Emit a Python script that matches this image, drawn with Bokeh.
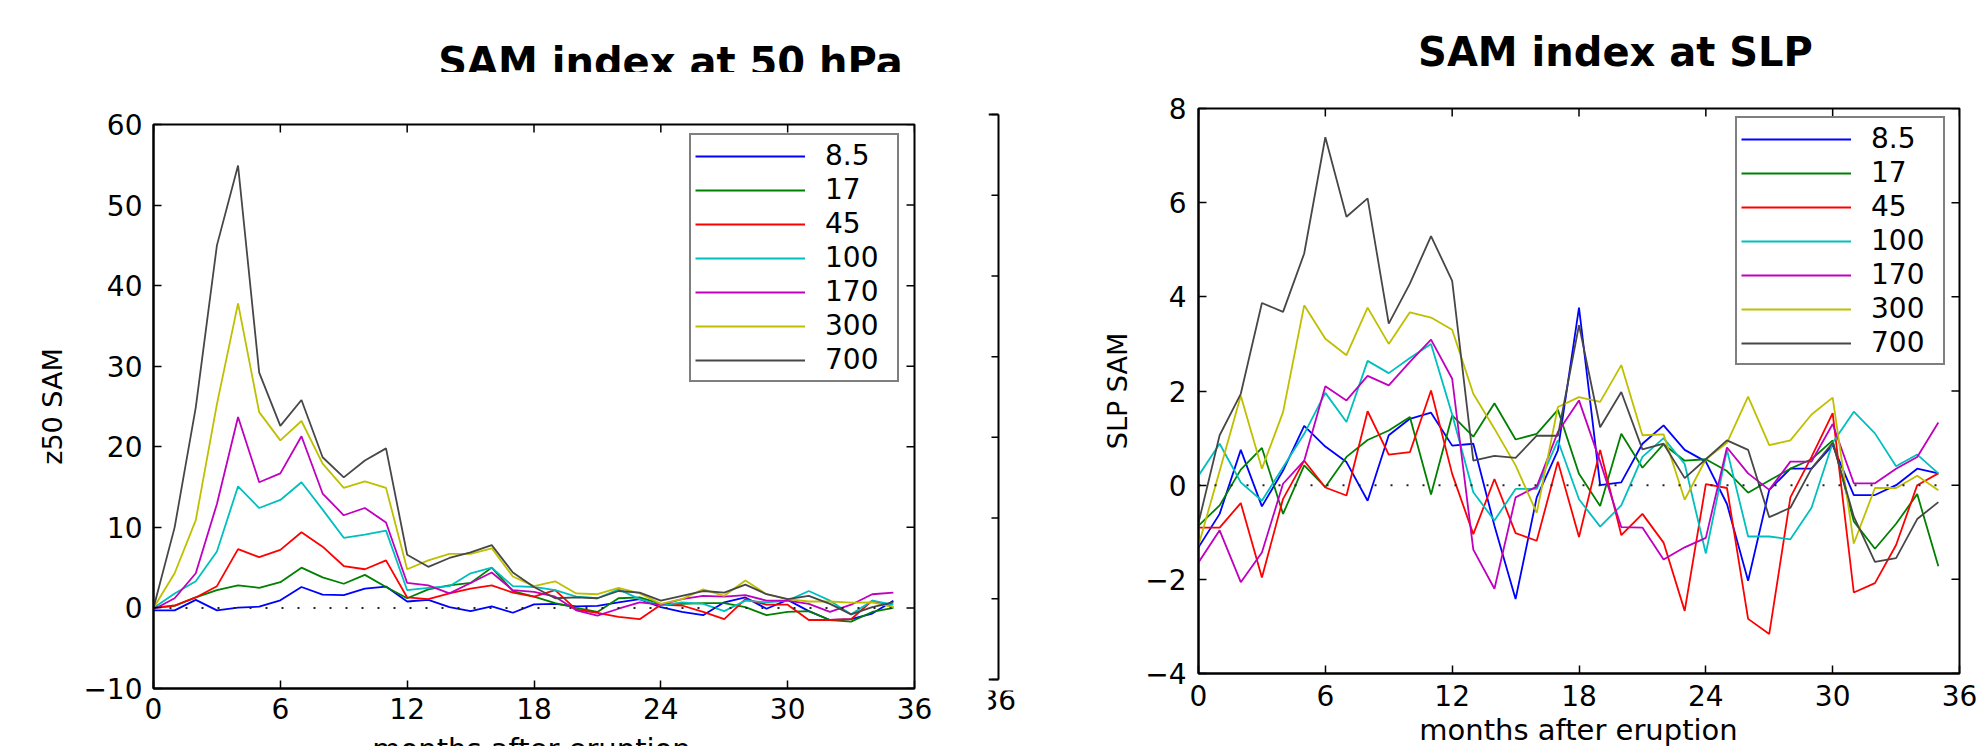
from bokeh.plotting import figure
from bokeh.layouts import row, column
from bokeh.models import Range1d, FixedTicker, Legend, LegendItem
from bokeh.core.properties import value
from bokeh.core.validation import silence
from bokeh.core.validation.warnings import MISSING_RENDERERS
from bokeh.embed import file_html
from bokeh.resources import INLINE

silence(MISSING_RENDERERS, True)

# ---------------- data ----------------
months = list(range(36))
series_labels = ["8.5", "17", "45", "100", "170", "300", "700"]
series_colors = ["#0000ff", "#008000", "#ff0000", "#00bfbf", "#bf00bf", "#bfbf00", "#474747"]

z50_85 = [-0.3, -0.3, 1.0, -0.3, 0.05, 0.15, 0.95, 2.6, 1.65, 1.6, 2.4, 2.65, 0.8, 1.0, 0.1, -0.4, 0.2, -0.6,
          0.45, 0.5, 0.2, 0.25, 0.7, 1.1, 0.1, -0.5, -0.9, 0.7, 1.3, -0.1, 1.0, -0.4, -1.5, -1.4, -0.7, 0.9]
z50_17 = [0, 0.25, 1.3, 2.2, 2.8, 2.5, 3.2, 5.0, 3.8, 3.0, 4.1, 2.6, 1.2, 2.3, 2.8, 3.1, 5.0, 2.1,
          1.4, 0.6, 0.0, -0.5, 1.2, 1.3, 0.5, 0.5, 0.6, 0.6, 0.1, -0.9, -0.5, -0.4, -1.5, -1.7, -0.5, 0.0]
z50_45 = [0, 0.3, 1.3, 2.7, 7.3, 6.3, 7.2, 9.4, 7.6, 5.2, 4.8, 5.9, 1.3, 1.1, 1.8, 2.4, 2.8, 1.9,
          1.4, 2.2, -0.2, -0.6, -1.1, -1.4, 0.4, 0.3, -0.5, -1.4, 1.1, 0.4, 0.4, -1.5, -1.5, -1.4, 0.9, 0.1]
z50_100 = [0, 1.8, 3.3, 7.0, 15.1, 12.4, 13.4, 15.6, 12.2, 8.7, 9.1, 9.6, 2.2, 2.5, 2.7, 4.3, 5.0, 2.7,
           2.6, 2.2, 1.4, 1.2, 2.3, 1.1, 0.3, 0.7, 0.5, -0.4, 0.9, 0.7, 0.9, 2.1, 0.9, -0.8, 0.9, 0.4]
z50_170 = [-0.2, 1.2, 4.3, 12.9, 23.7, 15.6, 16.7, 21.3, 14.2, 11.5, 12.4, 10.6, 3.1, 2.8, 1.8, 3.1, 4.4, 2.2,
           2.0, 1.4, -0.3, -0.95, -0.1, 0.7, 0.4, 1.1, 1.5, 1.4, 1.6, 0.9, 0.9, 0.5, -0.5, 0.4, 1.7, 1.9]
z50_300 = [0, 4.3, 10.9, 25.3, 37.8, 24.3, 20.8, 23.2, 17.9, 14.9, 15.7, 14.9, 4.8, 5.9, 6.7, 6.7, 7.4, 3.9,
           2.7, 3.3, 1.8, 1.7, 2.5, 1.8, 0.5, 1.1, 2.3, 1.5, 3.4, 1.7, 1.1, 0.8, 0.8, 0.65, 0.7, 0.1]
z50_700 = [0, 10.0, 24.9, 45.0, 54.9, 29.2, 22.6, 25.8, 18.7, 16.2, 18.3, 19.8, 6.6, 5.1, 6.2, 6.9, 7.8, 4.4,
           2.6, 1.2, 1.3, 1.2, 2.1, 1.9, 0.9, 1.5, 2.1, 1.9, 2.9, 1.7, 1.1, 1.5, 0.5, -0.8, 0.1, 0.7]

slp_85 = [-1.32, -0.61, 0.75, -0.45, 0.31, 1.26, 0.82, 0.49, -0.33, 1.06, 1.41, 1.54, 0.84, 0.88, -0.86, -2.42,
          -0.26, 0.74, 3.77, 0.0, 0.06, 0.88, 1.27, 0.75, 0.5, -0.4, -2.03, -0.1, 0.35, 0.35, 0.85, -0.21, -0.21,
          0.0, 0.35, 0.25]
slp_17 = [-0.86, -0.43, 0.33, 0.79, -0.61, 0.42, -0.04, 0.6, 0.96, 1.16, 1.45, -0.2, 1.48, 1.03, 1.74, 0.97,
          1.09, 1.6, 0.24, -0.44, 1.09, 0.37, 0.87, 0.52, 0.55, 0.3, -0.16, 0.1, 0.35, 0.55, 0.95, -0.77, -1.35,
          -0.82, -0.19, -1.72]
slp_45 = [-0.9, -0.9, -0.38, -1.96, -0.29, 0.52, -0.05, -0.22, 1.57, 0.65, 0.7, 2.01, 0.24, -1.04, 0.13, -1.02,
          -1.18, 0.5, -1.1, 0.75, -1.06, -0.61, -1.22, -2.67, 0.02, -0.06, -2.84, -3.16, -0.26, 0.6, 1.53, -2.28,
          -2.08, -1.27, 0.0, 0.25]
slp_100 = [0.2, 0.88, 0.06, -0.33, 0.38, 1.09, 1.96, 1.34, 2.64, 2.38, 2.7, 3.0, 1.5, -0.15, -0.75, -0.08,
           -0.08, 0.95, -0.3, -0.88, -0.43, 0.6, 1.0, 0.45, -1.45, 0.75, -1.09, -1.09, -1.15, -0.48, 0.9, 1.56,
           1.1, 0.4, 0.65, 0.25]
slp_170 = [-1.64, -0.96, -2.06, -1.43, 0.03, 0.52, 2.1, 1.8, 2.32, 2.12, 2.62, 3.09, 2.26, -1.37, -2.2, -0.26,
           -0.03, 1.13, 1.8, 0.5, -0.89, -0.9, -1.58, -1.32, -1.12, 0.8, 0.25, -0.1, 0.5, 0.5, 1.3, 0.04, 0.04,
           0.35, 0.6, 1.33]
slp_300 = [-1.28, 0.3, 1.9, 0.35, 1.55, 3.82, 3.11, 2.76, 3.77, 3.0, 3.67, 3.56, 3.3, 1.94, 1.2, 0.42, -0.59,
           1.66, 1.87, 1.77, 2.55, 1.06, 1.08, -0.31, 0.55, 0.9, 1.88, 0.85, 0.95, 1.5, 1.86, -1.24, -0.06, -0.06,
           0.2, -0.11]
slp_700 = [-0.8, 1.06, 1.94, 3.87, 3.68, 4.92, 7.39, 5.7, 6.09, 3.43, 4.28, 5.29, 4.34, 0.52, 0.62, 0.58, 1.05,
           1.05, 3.4, 1.23, 1.98, 0.76, 0.88, 0.15, 0.55, 0.95, 0.75, -0.68, -0.48, 0.35, 0.9, -0.67, -1.63, -1.55,
           -0.72, -0.36]

x_ticks = [0, 6, 12, 18, 24, 30, 36]
z50_ticks = [-10, 0, 10, 20, 30, 40, 50, 60]
slp_ticks = [-4, -2, 0, 2, 4, 6, 8]
side_ticks = [0, 1, 2, 3, 4, 5, 6, 7]      # ticks of the cut-off neighbouring panel
zero_line = [0] * len(months)

FONT = "DejaVu Sans"
FRAME_W = 761


def style_axis(ax, ticks, standoff):
    ax.ticker = FixedTicker(ticks=ticks)
    ax.axis_line_width = 2
    ax.axis_line_color = "black"
    ax.major_tick_in = 8
    ax.major_tick_out = 0
    ax.major_tick_line_width = 1.5
    ax.major_tick_line_color = "black"
    ax.minor_tick_line_color = None
    ax.major_label_text_font = FONT
    ax.major_label_text_font_size = "28px"
    ax.major_label_text_color = "black"
    ax.major_label_standoff = standoff


def text_fig(width, height, border_l, border_r, txt, cx, top_y, size, bold=False):
    """A bare strip whose frame (same side borders as the plot below/above it) clips the text."""
    fw = width - border_l - border_r
    t = figure(width=width, height=height, x_range=Range1d(0, fw), y_range=Range1d(0, height),
               output_backend="svg", toolbar_location=None,
               min_border_left=border_l, min_border_right=border_r,
               min_border_top=0, min_border_bottom=0,
               x_axis_type=None, y_axis_type=None)
    t.outline_line_color = None
    t.grid.visible = False
    t.text(x=[cx], y=[top_y], text=[txt], text_align="center", text_baseline="top",
           text_font=value(FONT), text_font_style="bold" if bold else "normal",
           text_font_size=size, text_color="black")
    return t


def panel(width, height, borders, frame_h, yr, yticks, yover, ylabel, ylabel_standoff,
          series, legend_xy, xstand, ystand):
    bl, br, bt, bb = borders
    p = figure(width=width, height=height, x_range=Range1d(0, 36), y_range=Range1d(*yr),
               output_backend="svg", toolbar_location=None,
               min_border_left=bl, min_border_right=br, min_border_top=bt, min_border_bottom=bb)
    p.grid.visible = False
    p.outline_line_color = "black"
    p.outline_line_width = 2

    xa = p.xaxis[0]
    ya = p.yaxis[0]
    style_axis(xa, x_ticks, xstand)
    style_axis(ya, yticks, ystand)
    ya.major_label_overrides = yover
    ya.axis_label = ylabel
    ya.axis_label_text_font = FONT
    ya.axis_label_text_font_size = "27px"
    ya.axis_label_text_font_style = "normal"
    ya.axis_label_text_color = "black"
    ya.axis_label_standoff = ylabel_standoff

    # inward ticks on the top and right edges of the box (8 px long)
    dx = 8 * 36.0 / FRAME_W
    dy = 8 * (yr[1] - yr[0]) / frame_h
    p.segment(x0=[36] * len(yticks), y0=yticks, x1=[36 - dx] * len(yticks), y1=yticks,
              line_color="black", line_width=1.5)
    p.segment(x0=x_ticks, y0=[yr[1]] * len(x_ticks), x1=x_ticks, y1=[yr[1] - dy] * len(x_ticks),
              line_color="black", line_width=1.5)

    items = []
    for lbl, col, ys in zip(series_labels, series_colors, series):
        r = p.line(months, ys, line_color=col, line_width=1.8)
        items.append(LegendItem(label=lbl, renderers=[r]))
    p.line(months, zero_line, line_color="#222222", line_width=2, line_dash="2 14")

    leg = Legend(items=items, location=legend_xy, margin=0, padding=4, spacing=1,
                 glyph_width=110, glyph_height=20, label_standoff=20, label_width=68,
                 label_height=20, label_text_font=FONT, label_text_font_size="28px",
                 label_text_color="black", border_line_color="black", border_line_width=2,
                 background_fill_color="white", background_fill_alpha=1.0)
    p.add_layout(leg)
    return p


# ---------- left panel (z50) ----------
tl = text_fig(988, 72, 153, 74, "SAM index at 50 hPa", 517, 34, "40px", bold=True)
fl = panel(988, 659, (153, 74, 52, 43), 564, (-10, 60), z50_ticks, {-10: "\u221210"},
           "z50 SAM", 12,
           [z50_85, z50_17, z50_45, z50_100, z50_170, z50_300, z50_700],
           (536, 306), 9, 11)
xl = text_fig(988, 15, 153, 74, "months after eruption", 378, 14.4, "29px")
left_col = column(tl, fl, xl, spacing=0)

# ---------- right edge of a cut-off neighbouring panel ----------
fm = figure(width=52, height=690, x_range=Range1d(35, 39.2), y_range=Range1d(-0.025, 7.025),
            output_backend="svg", toolbar_location=None, x_axis_type=None, y_axis_type=None,
            min_border_left=0, min_border_right=10, min_border_top=112, min_border_bottom=9)
fm.outline_line_color = None
fm.grid.visible = False
n_side = len(side_ticks)
fm.segment(x0=[36] * n_side, y0=side_ticks, x1=[35.3] * n_side, y1=side_ticks,
           line_color="black", line_width=1.5)
fm.segment(x0=[36, 35, 35], y0=[side_ticks[0], side_ticks[0], side_ticks[-1]],
           x1=[36, 36, 36], y1=[side_ticks[-1], side_ticks[0], side_ticks[-1]],
           line_color="black", line_width=2)
fm_lab = text_fig(52, 56, 0, 10, "36", 9.7, 57.6, "28px")
mid_col = column(fm, fm_lab, spacing=0)

# ---------- right panel (SLP) ----------
tr = text_fig(938, 72, 158, 19, "SAM index at SLP", 417, 44, "40px", bold=True)
fr = panel(938, 645, (158, 19, 36, 44), 565, (-4, 8), slp_ticks, {-4: "\u22124", -2: "\u22122"},
           "SLP SAM", 9,
           [slp_85, slp_17, slp_45, slp_100, slp_170, slp_300, slp_700],
           (537, 308), 11, 12)
xr = text_fig(938, 29, 158, 19, "months after eruption", 380, 33.5, "29px")
right_col = column(tr, fr, xr, spacing=0)

layout = row(left_col, mid_col, right_col, spacing=0)

open("out.html", "w").write(file_html(layout, INLINE))
